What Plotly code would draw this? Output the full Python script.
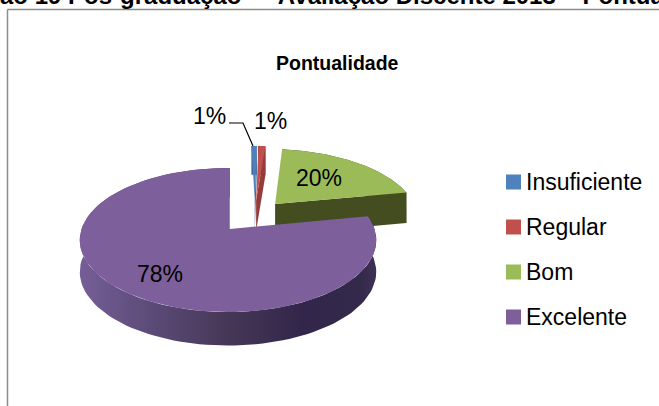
import math
import plotly.graph_objects as go

categories = ["Insuficiente", "Regular", "Bom", "Excelente"]
values = [0.7, 1.0, 20.3, 78.0]
percent_labels = ["1%", "1%", "20%", "78%"]
face_colors = ["#4f81bd", "#c0504d", "#9bbb59", "#7d5f9c"]
wall_colors = ["#3f6797", "#953c3a", "#434d20", "#4a3a63"]
explode_u = [0.195, 0.205, 0.34, 0.0]
explode_v = [0.44, 0.44, 0.376, 0.0]
chart_title = "Pontualidade"
page_heading = "ão 19 Pós-graduação — Avaliação Discente 2013 – Pontualidade"

W, H = 659, 406
CX, CY, A, B, K = 228.0, 229.0, 146.5, 70.3, 0.153


def project(u, v):
    w = 1 + K * v
    return CX + A * u / w, CY - B * v / w


def depth(v):
    return 31.5 - 2.0 * v


def arc(start, stop, du, dv, n=120):
    out = []
    for i in range(n + 1):
        t = math.radians(start + (stop - start) * i / n)
        out.append((du + math.sin(t), dv + math.cos(t)))
    return out


def poly(points, drop=False):
    xs, ys = [], []
    for u, v in points:
        x, y = project(u, v)
        xs.append(x)
        ys.append(y + (depth(v) if drop else 0))
    return xs, ys


def fill_trace(xs, ys, color):
    return go.Scatter(x=xs + xs[:1], y=ys + ys[:1], mode="lines", fill="toself", fillcolor=color,
                      line=dict(width=0, color=color), hoverinfo="skip", showlegend=False)


fig = go.Figure()
total = sum(values)
angle = 0.0
slices = []
for i, val in enumerate(values):
    sweep = 360.0 * val / total
    slices.append((i, angle, angle + sweep))
    angle += sweep

wall_traces = {}
face_traces = {}
for i, a0, a1 in slices:
    du, dv = explode_u[i], explode_v[i]
    if i == 3:
        a1 += 0.8
    outer = arc(a0, a1, du, dv)
    apex = (du + (0.012 if i == 3 else 0), dv)
    group = []
    if i != 3:
        xt, yt = poly([apex, outer[-1]])
        xb, yb = poly([apex, outer[-1]], drop=True)
        group.append(fill_trace(xt + xb[::-1], yt + yb[::-1], wall_colors[i]))
    xt, yt = poly(outer)
    xb, yb = poly(outer, drop=True)
    if i == 3:
        group.append(go.Scatter(
            x=xt + xb[::-1] + xt[:1], y=yt + yb[::-1] + yt[:1], mode="lines", fill="toself",
            fillgradient=dict(type="horizontal", start=80, stop=375,
                              colorscale=[[0, "#755e96"], [0.25, "#5b4a76"], [0.5, "#463757"],
                                          [0.75, "#32274a"], [0.95, "#33294a"], [1, "#3d3054"]]),
            line=dict(width=0, color="#4a3a63"), hoverinfo="skip", showlegend=False))
    else:
        group.append(fill_trace(xt + xb[::-1], yt + yb[::-1], wall_colors[i]))
    xf, yf = poly([apex] + outer)
    wall_traces[i] = group
    face_traces[i] = fill_trace(xf, yf, face_colors[i])

for i in (2, 0, 1, 3):
    for tr in wall_traces[i]:
        fig.add_trace(tr)
    fig.add_trace(face_traces[i])

# Legend swatches and labels
legend_x = [513.5] * 4
legend_y = [182, 227, 272, 317]
fig.add_trace(go.Scatter(x=legend_x, y=legend_y, mode="markers",
                         marker=dict(symbol="square", size=15, color=face_colors, line=dict(width=0)),
                         hoverinfo="skip", showlegend=False))

# Leader line between the 1% label and its slice
fig.add_trace(go.Scatter(x=[229, 243, 253], y=[123, 123, 146], mode="lines",
                         line=dict(color="#000000", width=1.2), hoverinfo="skip", showlegend=False))

label_pos = [(209, 116), (270, 121), (319, 178), (160, 274)]
annotations = []
for txt, (lx, ly) in zip(percent_labels, label_pos):
    annotations.append(dict(x=lx, y=ly, text=txt, showarrow=False, xref="x", yref="y",
                            font=dict(family="Liberation Sans", size=23, color="#000000")))
for name, ly in zip(categories, legend_y):
    annotations.append(dict(x=524, y=ly, text=name, showarrow=False, xref="x", yref="y",
                            xanchor="left",
                            font=dict(family="Liberation Sans", size=23, color="#000000")))
annotations.append(dict(x=337, y=63, text=chart_title, showarrow=False, xref="x", yref="y",
                        font=dict(family="Liberation Sans", size=19.5, color="#000000",
                                  weight="bold")))
annotations.append(dict(x=-2 / W, y=1 - 11 / H, text=page_heading, showarrow=False,
                        xref="paper", yref="paper", xanchor="left", yanchor="bottom",
                        font=dict(family="Liberation Sans", size=24, color="#000000",
                                  weight="bold")))

fig.update_layout(
    width=W, height=H, margin=dict(l=0, r=0, t=0, b=0),
    paper_bgcolor="#ffffff", plot_bgcolor="#ffffff", showlegend=False,
    xaxis=dict(range=[0, W], visible=False, fixedrange=True),
    yaxis=dict(range=[H, 0], visible=False, fixedrange=True),
    annotations=annotations,
    shapes=[
        dict(type="line", xref="x", yref="y", x0=7.5, x1=7.5, y0=9.5, y1=H,
             line=dict(color="#8c8c8c", width=1.5)),
        dict(type="line", xref="x", yref="y", x0=7.5, x1=W, y0=9.5, y1=9.5,
             line=dict(color="#8c8c8c", width=1.5)),
    ],
)
fig.write_html("out.html", config={"displayModeBar": False},
               post_script="document.body.style.margin='0';document.documentElement.style.overflow='hidden';")
